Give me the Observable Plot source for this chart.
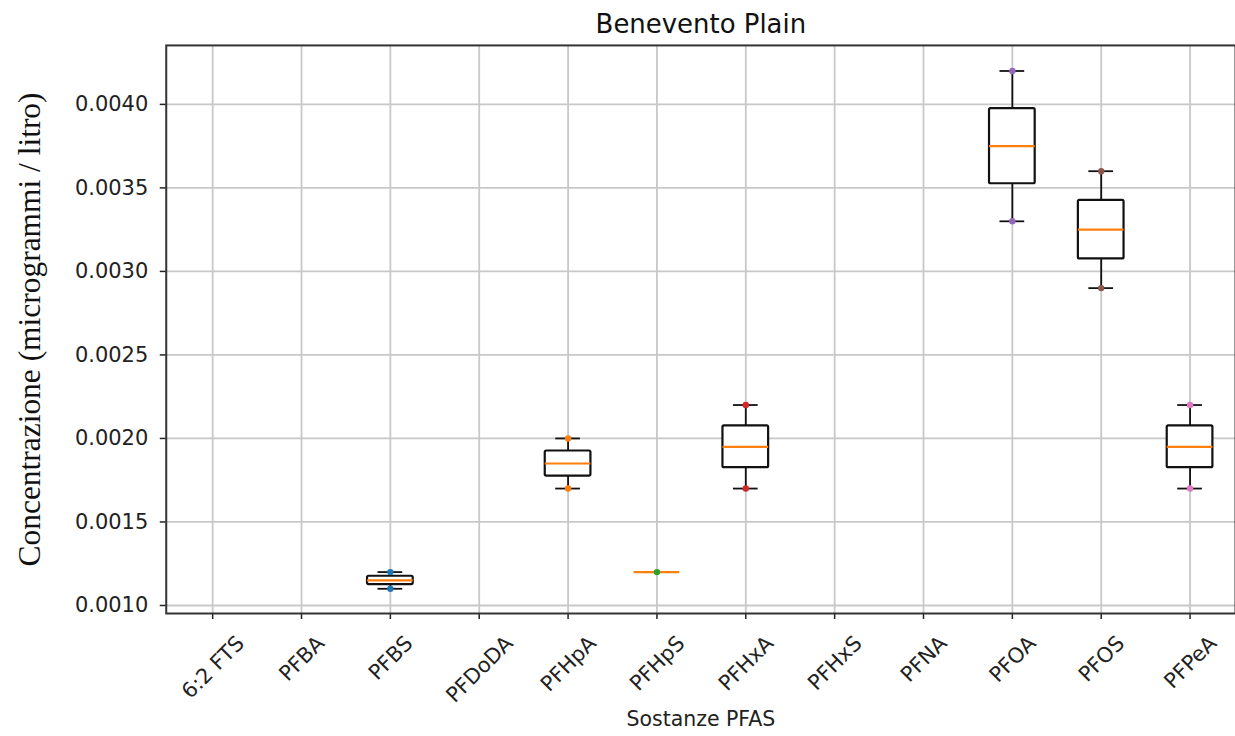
<!DOCTYPE html>
<html>
<head>
<meta charset="utf-8">
<script src="https://cdn.jsdelivr.net/npm/d3@7"></script>
<script src="https://cdn.jsdelivr.net/npm/@observablehq/plot@0.6"></script>
<style>
  html, body { margin: 0; padding: 0; background: #fff; overflow: hidden; }
  #chart svg { display: block; }
</style>
</head>
<body>
<div id="chart"></div>
<script>
// Categories (x axis)
const substances = ["6:2 FTS", "PFBA", "PFBS", "PFDoDA", "PFHpA", "PFHpS", "PFHxA", "PFHxS", "PFNA", "PFOA", "PFOS", "PFPeA"];
// Measured concentrations (µg/l) per substance with data
const measuredSubstances = ["PFBS", "PFHpA", "PFHpS", "PFHxA", "PFOA", "PFOS", "PFPeA"];
const measuredValues = [
  [0.0011, 0.0012],
  [0.0017, 0.0020],
  [0.0012],
  [0.0017, 0.0022],
  [0.0033, 0.0042],
  [0.0029, 0.0036],
  [0.0017, 0.0022]
];
const pointColors = ["#1f77b4", "#ff7f0e", "#2ca02c", "#d62728", "#9467bd", "#8c564b", "#e377c2"];
const yTicks = [0.0010, 0.0015, 0.0020, 0.0025, 0.0030, 0.0035, 0.0040];

const titleText = "Benevento Plain";
const xLabel = "Sostanze PFAS";
const yLabel = "Concentrazione (microgrammi / litro)";

// Build tables
const points = [];
measuredSubstances.forEach((s, i) => measuredValues[i].forEach(v => points.push({s, v, c: pointColors[i]})));
const stats = measuredSubstances.map((s, i) => {
  const vals = measuredValues[i].slice().sort(d3.ascending);
  return {
    s,
    min: d3.min(vals),
    q1: d3.quantile(vals, 0.25),
    med: d3.quantile(vals, 0.5),
    q3: d3.quantile(vals, 0.75),
    max: d3.max(vals)
  };
});

const W = 1237, H = 736;
const mL = 166, mR = 0, mT = 45, mB = 122;
const band = (W - mL - mR) / substances.length;
const boxInset = (band - 46) / 2;
const capInset = (band - 25) / 2;
const tickFont = 21;

const chart = Plot.plot({
  width: W,
  height: H,
  marginLeft: mL,
  marginRight: mR,
  marginTop: mT,
  marginBottom: mB,
  style: {fontFamily: "DejaVu Sans", fontSize: tickFont + "px", color: "#222", background: "#fff"},
  x: {type: "band", domain: substances, padding: 0, label: null},
  y: {domain: [0.000952, 0.004353], label: null},
  marks: [
    Plot.gridX(substances, {stroke: "#c8c8c8", strokeOpacity: 1, strokeWidth: 1.8}),
    Plot.gridY(yTicks, {stroke: "#c8c8c8", strokeOpacity: 1, strokeWidth: 1.8}),
    Plot.axisY({ticks: yTicks, tickFormat: d3.format(".4f"), tickSize: 6, tickPadding: 12, strokeWidth: 1.5, label: null, fontSize: tickFont}),
    Plot.axisX({tickRotate: -45, tickSize: 6, tickPadding: 8, strokeWidth: 1.5, label: null, fontSize: tickFont}),
    // whiskers
    Plot.ruleX(stats, {x: "s", y1: "min", y2: "q1", stroke: "#111", strokeWidth: 1.8}),
    Plot.ruleX(stats, {x: "s", y1: "q3", y2: "max", stroke: "#111", strokeWidth: 1.8}),
    Plot.tickY(stats, {x: "s", y: "min", stroke: "#111", strokeWidth: 1.8, insetLeft: capInset, insetRight: capInset}),
    Plot.tickY(stats, {x: "s", y: "max", stroke: "#111", strokeWidth: 1.8, insetLeft: capInset, insetRight: capInset}),
    // boxes
    Plot.rectY(stats, {x: "s", y1: "q1", y2: "q3", fill: "white", stroke: "#111", strokeWidth: 2.2, insetLeft: boxInset, insetRight: boxInset, rx: 1.5}),
    Plot.tickY(stats, {x: "s", y: "med", stroke: "#ff7f0e", strokeWidth: 2.2, insetLeft: boxInset, insetRight: boxInset}),
    // data points
    Plot.dot(points, {x: "s", y: "v", fill: "c", r: 3.2, stroke: null}),
    Plot.frame({stroke: "#333", strokeWidth: 2}),
    // title and axis labels
    Plot.text([titleText], {frameAnchor: "top", lineAnchor: "bottom", dy: -12, fontSize: 26, fill: "#111", fontFamily: "DejaVu Sans"}),
    Plot.text([xLabel], {frameAnchor: "bottom", lineAnchor: "bottom", dy: 113, fontSize: 20.5, fill: "#222", fontFamily: "DejaVu Sans"}),
    Plot.text([yLabel], {frameAnchor: "left", textAnchor: "middle", lineAnchor: "middle", dx: -137, rotate: -90, fontSize: 31.5, fill: "#111", fontFamily: "Liberation Serif"})
  ]
});
document.getElementById("chart").appendChild(chart);

// Matplotlib-like placement of rotated x tick labels: bbox centred under the tick, top at a fixed offset
const labelTop = 621;
d3.select(chart).selectAll('g[aria-label="x-axis tick label"] text').each(function() {
  const t = d3.select(this);
  const tr = t.attr("transform") || "";
  const m = tr.match(/translate\(([-\d.]+),\s*([-\d.]+)\)/);
  if (!m) return;
  const x = +m[1];
  const w = this.getComputedTextLength();
  const h = 14;
  const cy = labelTop + (w + h) * Math.SQRT1_2 / 2;
  t.attr("transform", `translate(${x},${cy}) rotate(-45)`)
   .attr("text-anchor", "middle")
   .attr("x", null).attr("y", null)
   .attr("dy", "0.35em");
});
</script>
</body>
</html>
